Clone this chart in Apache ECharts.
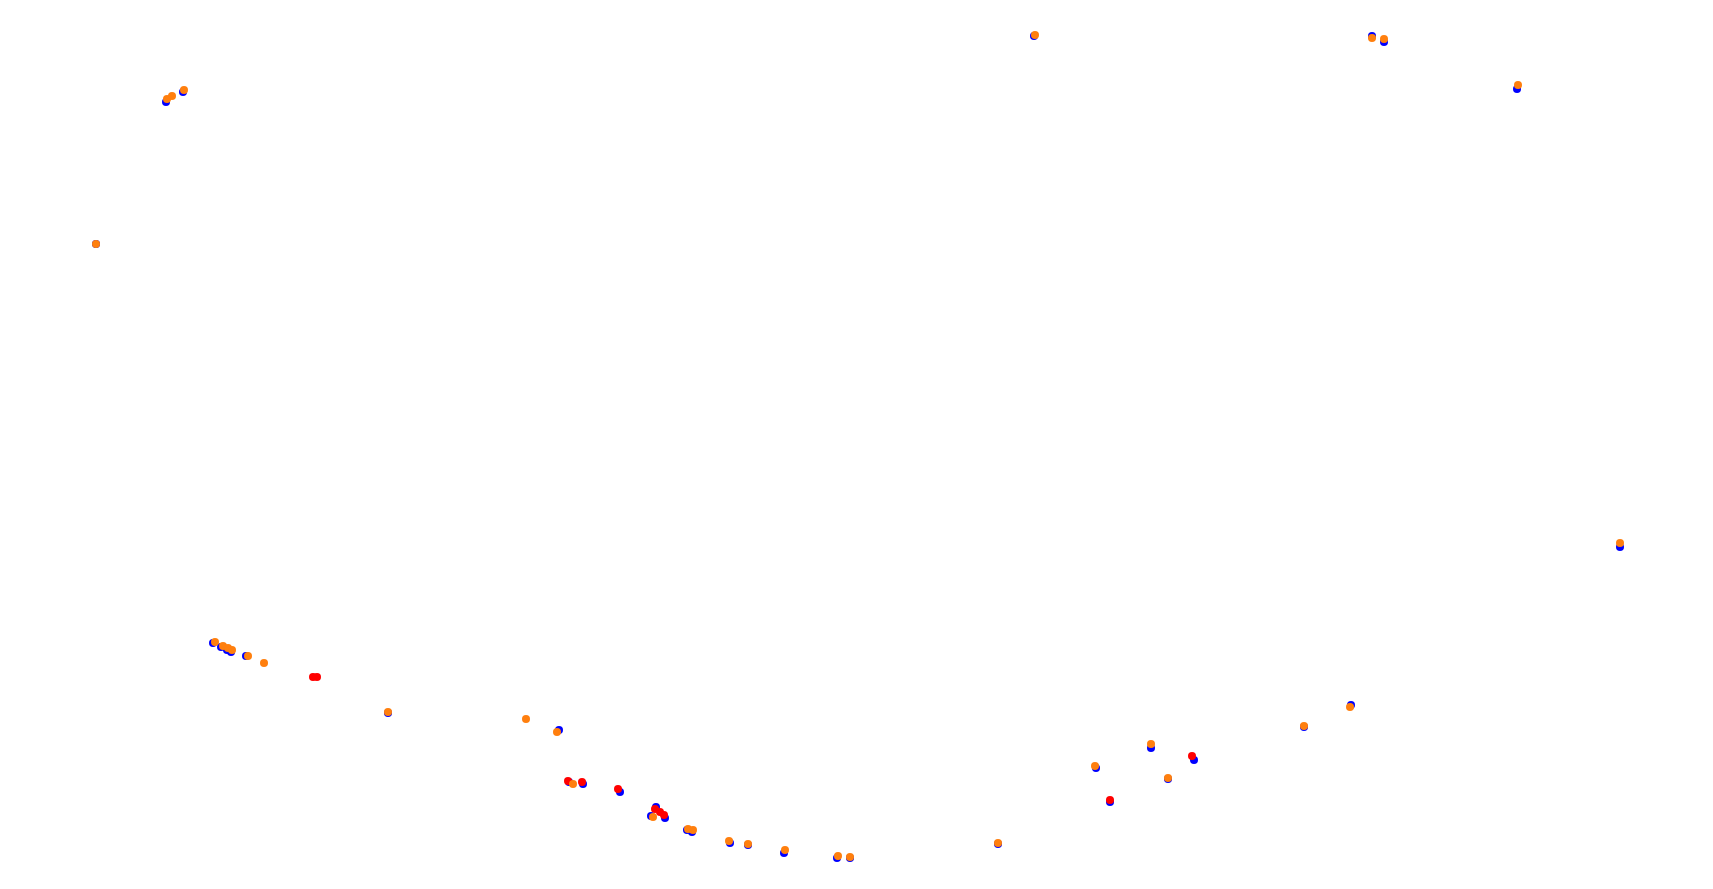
<!DOCTYPE html>
<html>
<head>
<meta charset="utf-8">
<script src="https://cdn.jsdelivr.net/npm/echarts@6/dist/echarts.min.js"></script>
<style>html,body{margin:0;padding:0;background:#fff;}#c{width:1713px;height:889px;}</style>
</head>
<body>
<div id="c"></div>
<script>
// Blue series points [x, y]
var bluePoints = [
  [166,102],[183,92],[96,244],[1034,36],[1372,36],[1384,42],[1517,89],[1620,547],
  [213,643],[221,647],[227,650],[231,652],[246,656],
  [388,713],[559,730],
  [569,782],[583,784],[620,792],[656,807],[665,818],[651,816],[687,830],[692,832],
  [730,843],[748,845],[784,853],[837,858],[850,858],[998,844],
  [1096,768],[1110,802],[1151,748],[1168,779],[1194,760],[1304,727],[1351,705]
];
// Red series points [x, y]
var redPoints = [
  [313,677],[317,677],
  [568,781],[582,782],[618,789],[655,809],[660,812],[664,815],
  [1110,800],[1192,756]
];
// Orange series points [x, y]
var orangePoints = [
  [167,99],[172,96],[184,90],[96,244],[1035,35],[1372,38],[1384,39],[1518,85],[1620,543],
  [215,642],[223,646],[228,648],[232,650],[248,656],[264,663],
  [388,712],[526,719],[557,732],
  [573,784],[653,817],[688,829],[693,830],
  [729,841],[748,844],[785,850],[838,856],[850,857],[998,843],
  [1095,766],[1151,744],[1168,778],[1304,726],[1350,707]
];

var chart = echarts.init(document.getElementById('c'));
function ser(name, data, color) {
  return {
    name: name, type: 'scatter', data: data, symbol: 'circle', symbolSize: 8,
    itemStyle: { color: color, opacity: 1 }, silent: true
  };
}
chart.setOption({
  animation: false,
  backgroundColor: '#ffffff',
  grid: { left: 0, right: 0, top: 0, bottom: 0 },
  xAxis: { type: 'value', min: 0, max: 1713, show: false },
  yAxis: { type: 'value', min: 0, max: 889, inverse: true, show: false },
  series: [
    ser('blue', bluePoints, '#0000ff'),
    ser('red', redPoints, '#ff0000'),
    ser('orange', orangePoints, '#ff7f0e')
  ]
});
</script>
</body>
</html>
